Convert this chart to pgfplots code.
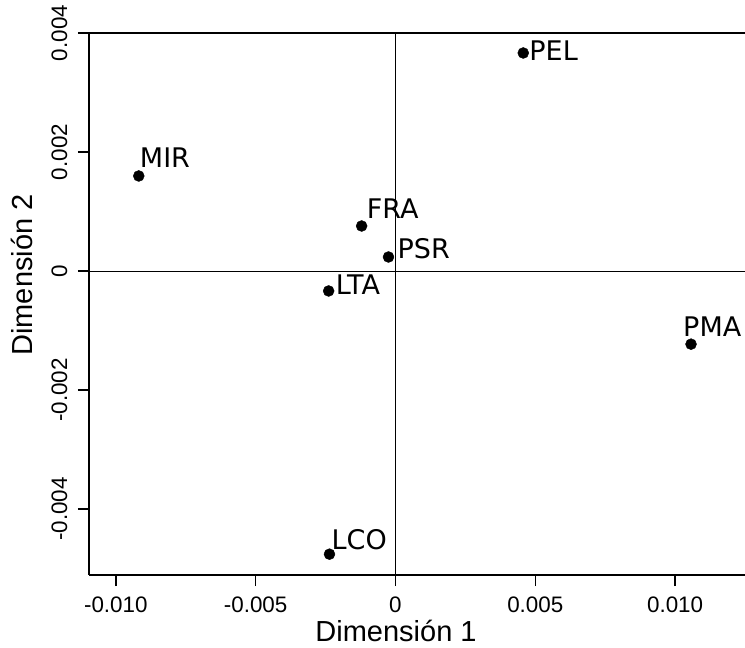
\documentclass[border=0pt]{standalone}
\usepackage{fontspec}
\setmainfont{Liberation Sans}
\newfontfamily\lblfont{DejaVu Sans}
\usepackage{pgfplots}
\pgfplotsset{compat=1.18}
\usepackage{pgfplotstable}
\pgfplotstableread{
x y lab dx dy
0.00457 0.003664 PEL 6 2
-0.00918 0.001597 MIR 1 18
-0.00121 0.000756 FRA 5 17
-0.00025 0.000235 PSR 9 8
-0.00239 -0.000336 LTA 7 6
0.01057 -0.00123 PMA -8 17
-0.00236 -0.00476 LCO 2 15
}\pts
\begin{document}
\begin{tikzpicture}
\begin{axis}[
  scale only axis, width=656pt, height=542pt,
  xmin=-0.01096, xmax=0.0125, ymin=-0.00511, ymax=0.004,
  axis x line*=box, axis y line*=left,
  axis line style={-, line width=1.6pt, black},
  clip=false,
  scaled ticks=false,
  xtick={-0.01,-0.005,0,0.005,0.01},
  xticklabels={-0.010,-0.005,0,0.005,0.010},
  ytick={-0.004,-0.002,0,0.002,0.004},
  yticklabels={-0.004,-0.002,0,0.002,0.004},
  xtick pos=bottom, ytick pos=left,
  tick align=outside, major tick length=11pt,
  tick style={line width=1.4pt, black},
  ticklabel style={font=\fontsize{22.4}{26}\selectfont},
  xticklabel style={yshift=-7pt},
  yticklabel style={rotate=90, anchor=south, yshift=7pt},
]
\addplot[line width=0.8pt, black] coordinates {(0,-0.00511) (0,0.004)};
\addplot[line width=0.8pt, black] coordinates {(-0.01096,0) (0.0125,0)};
\addplot[only marks, mark=*, black, mark size=5.5pt,
  point meta=explicit symbolic,
  visualization depends on={\thisrow{dx}\as\dx},
  visualization depends on={\thisrow{dy}\as\dy},
  nodes near coords,
  nodes near coords style={anchor=west, inner sep=0pt, xshift=\dx pt, yshift=\dy pt, font=\lblfont\fontsize{27}{30}\selectfont, text=black}]
  table[x=x, y=y, meta=lab]{\pts};
\coordinate (SW) at (rel axis cs:0,0);
\coordinate (NE) at (rel axis cs:1,1);
\end{axis}
\node[anchor=base, inner sep=0pt, font=\fontsize{29}{32}\selectfont] at ([shift={(307pt,-67pt)}]SW) {Dimensión 1};
\node[rotate=90, anchor=base, inner sep=0pt, font=\fontsize{29}{32}\selectfont] at ([shift={(-56pt,300pt)}]SW) {Dimensión 2};
\pgfresetboundingbox
\path[use as bounding box] ([shift={(-89pt,-73pt)}]SW) rectangle ([shift={(0pt,33pt)}]NE);
\end{tikzpicture}
\end{document}
